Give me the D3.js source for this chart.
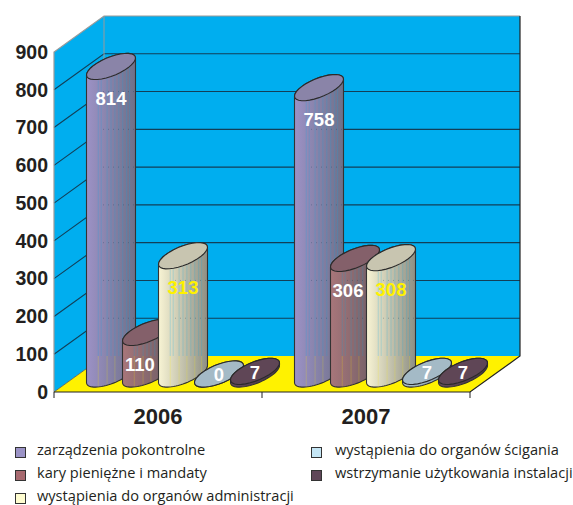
<!DOCTYPE html>
<html>
<head>
<meta charset="utf-8">
<script src="https://cdn.jsdelivr.net/npm/d3@7"></script>
<style>
  html, body { margin: 0; background: #fff; }
  svg { display: block; }
  .num { font-family: "Liberation Sans", sans-serif; font-weight: bold; }
  .legend text { font-family: "Open Sans", "Noto Sans", sans-serif; font-size: 14.6px; fill: #231f20; }
</style>
</head>
<body>
<svg width="573" height="505"></svg>
<script>
var years = ["2006", "2007"];
var seriesNames = [
  "zarządzenia pokontrolne",
  "kary pieniężne i mandaty",
  "wystąpienia do organów administracji",
  "wystąpienia do organów ścigania",
  "wstrzymanie użytkowania instalacji"
];
var values2006 = [814, 110, 313, 0, 7];
var values2007 = [758, 306, 308, 7, 7];
var yTicks = [0, 100, 200, 300, 400, 500, 600, 700, 800, 900];

var sideLeft = ["#9c92c6", "#a8767a", "#f8f4d4", "#a8c0cc", "#64495a"];
var sideRight = ["#6f7088", "#6a5c64", "#8e8f84", "#8aa0ac", "#4a3644"];
var topFill = ["#8a84a8", "#84606a", "#c8c5b0", "#a4bac6", "#5f4656"];
var swatchFill = ["#9b93c6", "#a86a70", "#fffdd0", "#c5e6f5", "#5f4658"];
var labelFill = ["#fff", "#fff", "#fff200", "#fff", "#fff"];
var stripes = [0.24, 0.3, 0.42, 0.5, 0.58, 0.66, 0.74, 0.82, 0.88];

var svg = d3.select("svg");
var left = 54, right = 470, bottom = 392, top_ = 52;
var depthX = 50, depthY = -36;

var x0 = d3.scaleBand().domain(years).range([left, right]);
var x1 = d3.scaleBand().domain(d3.range(5)).range([0, 180]);
var y = d3.scaleLinear().domain([0, 900]).range([bottom, top_]);

// slanted ellipse of a cylinder end
var rx = 24.5, slant = 8.5, ry = 10;
function rim(cx, cy, a0, a1) {
  return d3.range(0, 33).map(i => {
    var t = a0 + (a1 - a0) * i / 32;
    return [cx + rx * Math.cos(t), cy - slant * Math.cos(t) + ry * Math.sin(t)];
  });
}
var line = d3.line();

var defs = svg.append("defs");
seriesNames.forEach((s, i) => {
  var g = defs.append("linearGradient").attr("id", "cyl" + i);
  g.append("stop").attr("offset", "0%").attr("stop-color", sideLeft[i]);
  g.append("stop").attr("offset", "100%").attr("stop-color", sideRight[i]);
});

// walls and floor
var wall = svg.append("g");
wall.append("path")
  .attr("d", line([[left, y(0)], [left, y(900)], [left + depthX, y(900) + depthY], [right + depthX, y(900) + depthY], [right + depthX, y(0) + depthY], [left + depthX, y(0) + depthY]]))
  .attr("fill", "#00aeef");
wall.append("path")
  .attr("d", line([[left, y(0)], [left + depthX, y(0) + depthY], [right + depthX, y(0) + depthY], [right, y(0)]]))
  .attr("fill", "#fff200");

yTicks.filter(d => d > 0 && d < 900).forEach(d => {
  wall.append("path")
    .attr("d", line([[left, y(d)], [left + depthX, y(d) + depthY], [right + depthX, y(d) + depthY]]))
    .attr("fill", "none").attr("stroke", "#123f58").attr("stroke-width", 1.1);
});
wall.append("path")
  .attr("d", line([[left, y(0)], [left, y(900)], [left + depthX, y(900) + depthY], [right + depthX, y(900) + depthY]]))
  .attr("fill", "none").attr("stroke", "#9a9a9a").attr("stroke-width", 1.2);
wall.append("path")
  .attr("d", line([[left + depthX, y(900) + depthY], [left + depthX, y(0) + depthY]]))
  .attr("fill", "none").attr("stroke", "#9a9a9a").attr("stroke-width", 1);
wall.append("path")
  .attr("d", line([[left, y(0)], [left + depthX, y(0) + depthY]]))
  .attr("fill", "none").attr("stroke", "#555").attr("stroke-width", 0.8);
wall.append("path")
  .attr("d", line([[left, y(0)], [right, y(0)], [right + depthX, y(0) + depthY], [right + depthX, y(900) + depthY]]))
  .attr("fill", "none").attr("stroke", "#222").attr("stroke-width", 1.2);

// ticks between the years
[left, left + x0.step(), right].forEach(px => {
  wall.append("line").attr("x1", px).attr("x2", px)
    .attr("y1", y(0)).attr("y2", y(0) + 6)
    .attr("stroke", "#222").attr("stroke-width", 1);
});

// axes
var yAxis = svg.append("g")
  .attr("class", "num")
  .attr("transform", `translate(${left},0)`)
  .call(d3.axisLeft(y).tickValues(yTicks).tickSize(0).tickPadding(6));
yAxis.select(".domain").remove();
yAxis.selectAll("text").attr("font-size", 19.5).attr("font-family", null).attr("fill", "#231f20");

var xAxis = svg.append("g")
  .attr("class", "num")
  .attr("transform", `translate(0,${bottom})`)
  .call(d3.axisBottom(x0).tickSize(0).tickPadding(16));
xAxis.select(".domain").remove();
xAxis.selectAll("text").attr("font-size", 22).attr("font-family", null).attr("fill", "#231f20");

// cylinders, left to right so each covers the one before
var floorBack = y(0) + depthY;
years.forEach((yr, g) => {
  var vals = g === 0 ? values2006 : values2007;
  vals.forEach((v, i) => {
    var cx = x0(yr) + x0.step() / 2 - 90 + x1(i) + x1.step() / 2 + depthX / 2;
    var yBase = y(0) + depthY / 2;
    var yTop = y(v) + depthY / 2;
    var c = svg.append("g");

    // sin positive = lower half of the rim
    var lower = rim(cx, yBase, Math.PI, 0);
    var upper = rim(cx, yTop, 0, -Math.PI);
    c.append("path")
      .attr("d", line(lower.concat(upper)) + "Z")
      .attr("fill", `url(#cyl${i})`)
      .attr("stroke", "#333").attr("stroke-width", 1.1);

    // faint streaks, the floor and wall showing through
    if (v > 50) {
      stripes.forEach((f, k) => {
        var sx = cx - rx + 2 * rx * f;
        var t = Math.acos((sx - cx) / rx);
        var yb = yBase - slant * Math.cos(t) + ry * Math.sin(t) - 1;
        var yt = yTop - slant * Math.cos(t) + ry * Math.sin(t) + 1;
        var mid = Math.max(floorBack, yt);
        if (k % 2 === 0) {
          c.append("line").attr("x1", sx).attr("x2", sx).attr("y1", yb).attr("y2", mid)
            .attr("stroke", "#fff200").attr("stroke-opacity", 0.2).attr("stroke-width", 1);
        }
        if (mid > yt) {
          c.append("line").attr("x1", sx).attr("x2", sx).attr("y1", mid).attr("y2", yt)
            .attr("stroke", "#00aeef").attr("stroke-opacity", 0.22).attr("stroke-width", 1);
        }
      });
      // gridlines just showing through
      yTicks.filter(d => d > 0 && y(d) + depthY > yTop + ry + 4).forEach(d => {
        c.append("line")
          .attr("x1", cx - 8).attr("x2", cx + rx - 1)
          .attr("y1", y(d) + depthY).attr("y2", y(d) + depthY)
          .attr("stroke", "#123f58").attr("stroke-opacity", 0.3)
          .attr("stroke-dasharray", "1 4");
      });
    }

    c.append("path")
      .attr("d", line(rim(cx, yTop, 0, 2 * Math.PI)) + "Z")
      .attr("fill", topFill[i])
      .attr("stroke", "#2a2a2a").attr("stroke-width", 1.1);

    // value labels: tall bars under the top, flat ones on the top
    var lx = cx + (i === 1 ? -7 : 0);
    var ly = v > 50 ? yTop + 32 : yTop + 1;
    svg.append("text")
      .attr("class", "num")
      .attr("x", lx).attr("y", ly)
      .attr("dy", "0.35em")
      .attr("text-anchor", "middle")
      .attr("font-size", 18.5)
      .attr("fill", labelFill[i])
      .text(v);
  });
});

// legend
var legX = d3.scaleOrdinal().domain([0, 1]).range([15, 311]);
var legY = d3.scalePoint().domain([0, 1, 2]).range([452, 498]);
var legend = svg.append("g").attr("class", "legend");
seriesNames.forEach((s, i) => {
  var col = i < 3 ? 0 : 1, row = i < 3 ? i : i - 3;
  legend.append("rect")
    .attr("x", legX(col) + 0.5).attr("y", legY(row) - 4.5)
    .attr("width", 10).attr("height", 10)
    .attr("fill", swatchFill[i]).attr("stroke", "#333").attr("stroke-width", 1);
  legend.append("text")
    .attr("x", legX(col) + (col ? 24 : 22)).attr("y", legY(row) + 2.5)
    .text(s);
});
</script>
</body>
</html>
